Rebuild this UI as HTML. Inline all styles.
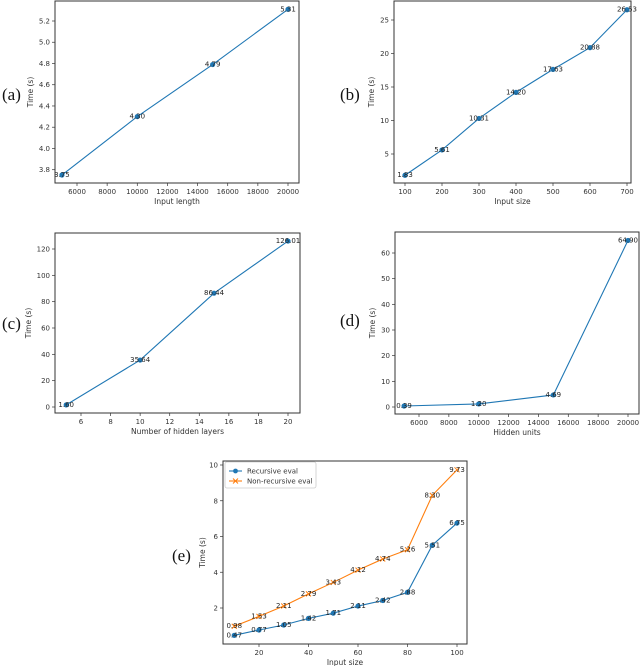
<!DOCTYPE html>
<html><head><meta charset="utf-8"><style>
body{margin:0;background:#fff;width:640px;height:666px;overflow:hidden}
svg{display:block}
text{font-family:"DejaVu Sans","Liberation Sans",sans-serif;}
text.serif{font-family:"Liberation Serif","DejaVu Serif",serif;}
</style></head><body>
<svg id="s" width="640" height="666" xmlns="http://www.w3.org/2000/svg"></svg>
<script>
// Chart (a)
const aX=[5000,10000,15000,20000];
const aY=[3.75,4.30,4.79,5.31];
const aLbl=["3.75","4.30","4.79","5.31"];
const aXT=[6000,8000,10000,12000,14000,16000,18000,20000];
const aYT=[3.8,4.0,4.2,4.4,4.6,4.8,5.0,5.2];
// Chart (b)
const bX=[100,200,300,400,500,600,700];
const bY=[1.83,5.61,10.31,14.20,17.63,20.88,26.53];
const bLbl=["1.83","5.61","10.31","14.20","17.63","20.88","26.53"];
const bXT=[100,200,300,400,500,600,700];
const bYT=[5,10,15,20,25];
// Chart (c)
const cX=[5,10,15,20];
const cY=[1.60,35.64,86.44,126.01];
const cLbl=["1.60","35.64","86.44","126.01"];
const cXT=[6,8,10,12,14,16,18,20];
const cYT=[0,20,40,60,80,100,120];
// Chart (d)
const dX=[5000,10000,15000,20000];
const dY=[0.39,1.20,4.69,64.90];
const dLbl=["0.39","1.20","4.69","64.90"];
const dXT=[6000,8000,10000,12000,14000,16000,18000,20000];
const dYT=[0,10,20,30,40,50,60];
// Chart (e)
const eX=[10,20,30,40,50,60,70,80,90,100];
const eRec=[0.47,0.77,1.05,1.42,1.71,2.11,2.42,2.88,5.51,6.75];
const eNon=[0.98,1.53,2.11,2.79,3.43,4.12,4.74,5.26,8.30,9.73];
const eXT=[20,40,60,80,100];
const eYT=[2,4,6,8,10];

const NS="http://www.w3.org/2000/svg";
const S=document.getElementById('s');
function mk(tag,attrs,parent,txt){const e=document.createElementNS(NS,tag);for(const k in attrs)e.setAttribute(k,attrs[k]);if(txt!==undefined)e.textContent=txt;(parent||S).appendChild(e);return e;}
function lin(d0,d1,p0,p1){return v=>p0+(v-d0)*(p1-p0)/(d1-d0);}

function chart(o){
  const g=mk('g',{});
  
  
  const sx=lin(o.xd[0],o.xd[1],o.xp[0],o.xp[1]);
  const sy=lin(o.yd[0],o.yd[1],o.yp[0],o.yp[1]);
  const fr=mk('rect',{x:o.L,y:o.T,width:o.R-o.L,height:o.B-o.T,fill:'none',stroke:'#333','stroke-width':1},g);
  
  
  o.xt.forEach(v=>{const x=sx(v);
    mk('line',{x1:x,x2:x,y1:o.B,y2:o.B+3,stroke:'#333','stroke-width':0.7},g);
    const t=mk('text',{x:x,y:o.B+11,'font-size':7,fill:'#333','text-anchor':'middle'},g,o.xf?o.xf(v):v);
    
    });
  o.yt.forEach(v=>{const y=sy(v);
    mk('line',{x1:o.L-3,x2:o.L,y1:y,y2:y,stroke:'#333','stroke-width':0.7},g);
    const t=mk('text',{x:o.L-5,y:y+2.5,'font-size':7,fill:'#333','text-anchor':'end'},g,o.yf?o.yf(v):v);
    
    });
  const xl=mk('text',{x:(o.L+o.R)/2,y:o.B+21,'font-size':7.5,fill:'#333','text-anchor':'middle'},g,o.xlab);
  
  
  const ym=(o.T+o.B)/2, yx=o.L-o.ylo;
  const yl=mk('text',{x:yx,y:ym,'font-size':7.5,fill:'#333','text-anchor':'middle',transform:`rotate(-90 ${yx} ${ym})`},g,'Time (s)');
  
  
  const pl=mk('text',{x:o.px,y:o.py,'font-size':17,fill:'#111','class':'serif'},g,o.panel);
  
  
  o.series.forEach(s=>{
    const pts=s.y.map((v,i)=>sx(o.x[i])+','+sy(v)).join(' ');
    const ln=mk('polyline',{points:pts,fill:'none',stroke:s.c,'stroke-width':1.1},g);
    
    
    s.y.forEach((v,i)=>{const x=sx(o.x[i]),y=sy(v);
      let m;
      if(s.m==='x'){m=mk('path',{d:`M${x-2.5},${y-2.5}L${x+2.5},${y+2.5}M${x-2.5},${y+2.5}L${x+2.5},${y-2.5}`,stroke:s.c,'stroke-width':1},g);}
      else m=mk('circle',{cx:x,cy:y,r:2.6,fill:s.c},g);
      
      
      const t=mk('text',{x:x,y:y+2,'font-size':7,fill:'#222','text-anchor':'middle'},g,s.lbl?s.lbl[i]:v.toFixed(2));
      
      
    });
  });
  return g;
}
const B='#1f77b4',O='#ff7f0e';
chart({name:'chart-a-input-length',L:55,R:299,T:1,B:183,xd:[6000,20000],xp:[77,288],yd:[3.8,5.2],yp:[169.7,21],
  xt:aXT,yt:aYT,yf:v=>v.toFixed(1),xlab:'Input length',ylo:22,panel:'(a)',px:2,py:100,x:aX,
  series:[{n:'time',y:aY,c:B,lbl:aLbl}]});
chart({name:'chart-b-input-size',L:394,R:631,T:1,B:183,xd:[100,700],xp:[405,627],yd:[5,25],yp:[154,20],
  xt:bXT,yt:bYT,xlab:'Input size',ylo:20,panel:'(b)',px:340,py:100,x:bX,
  series:[{n:'time',y:bY,c:B,lbl:bLbl}]});
chart({name:'chart-c-hidden-layers',L:55,R:300,T:233,B:413,xd:[6,20],xp:[81,288],yd:[0,120],yp:[407,249],
  xt:cXT,yt:cYT,xlab:'Number of hidden layers',ylo:24,panel:'(c)',px:2,py:329,x:cX,
  series:[{n:'time',y:cY,c:B,lbl:cLbl}]});
chart({name:'chart-d-hidden-units',L:395,R:639,T:232,B:414,xd:[6000,20000],xp:[419,628],yd:[0,60],yp:[407,253],
  xt:dXT,yt:dYT,xlab:'Hidden units',ylo:20,panel:'(d)',px:340,py:326,x:dX,
  series:[{n:'time',y:dY,c:B,lbl:dLbl}]});
chart({name:'chart-e-recursive-eval',L:223,R:467,T:461,B:644,xd:[20,100],xp:[259,457],yd:[2,10],yp:[608,465],
  xt:eXT,yt:eYT,xlab:'Input size',ylo:18,panel:'(e)',px:172,py:561,x:eX,
  series:[{n:'recursive',y:eRec,c:B},{n:'non-recursive',y:eNon,c:O,m:'x'}]});
// legend
const lg=mk('g',{});


mk('rect',{x:225,y:462,width:91,height:26,rx:2,fill:'#fff',stroke:'#ccc','stroke-width':0.8},lg);
[[B,'Recursive eval',471,'c'],[O,'Non-recursive eval',481,'x']].forEach(e=>{
  const it=mk('g',{},lg);
  
  
  mk('line',{x1:229,x2:242,y1:e[2],y2:e[2],stroke:e[0],'stroke-width':1.1},it);
  if(e[3]==='c')mk('circle',{cx:235.5,cy:e[2],r:2.4,fill:e[0]},it);
  else mk('path',{d:`M233,${e[2]-2.5}L238,${e[2]+2.5}M233,${e[2]+2.5}L238,${e[2]-2.5}`,stroke:e[0],'stroke-width':1},it);
  mk('text',{x:247,y:e[2]+2.5,'font-size':7,fill:'#333'},it,e[1]);
});
</script>
</body></html>
